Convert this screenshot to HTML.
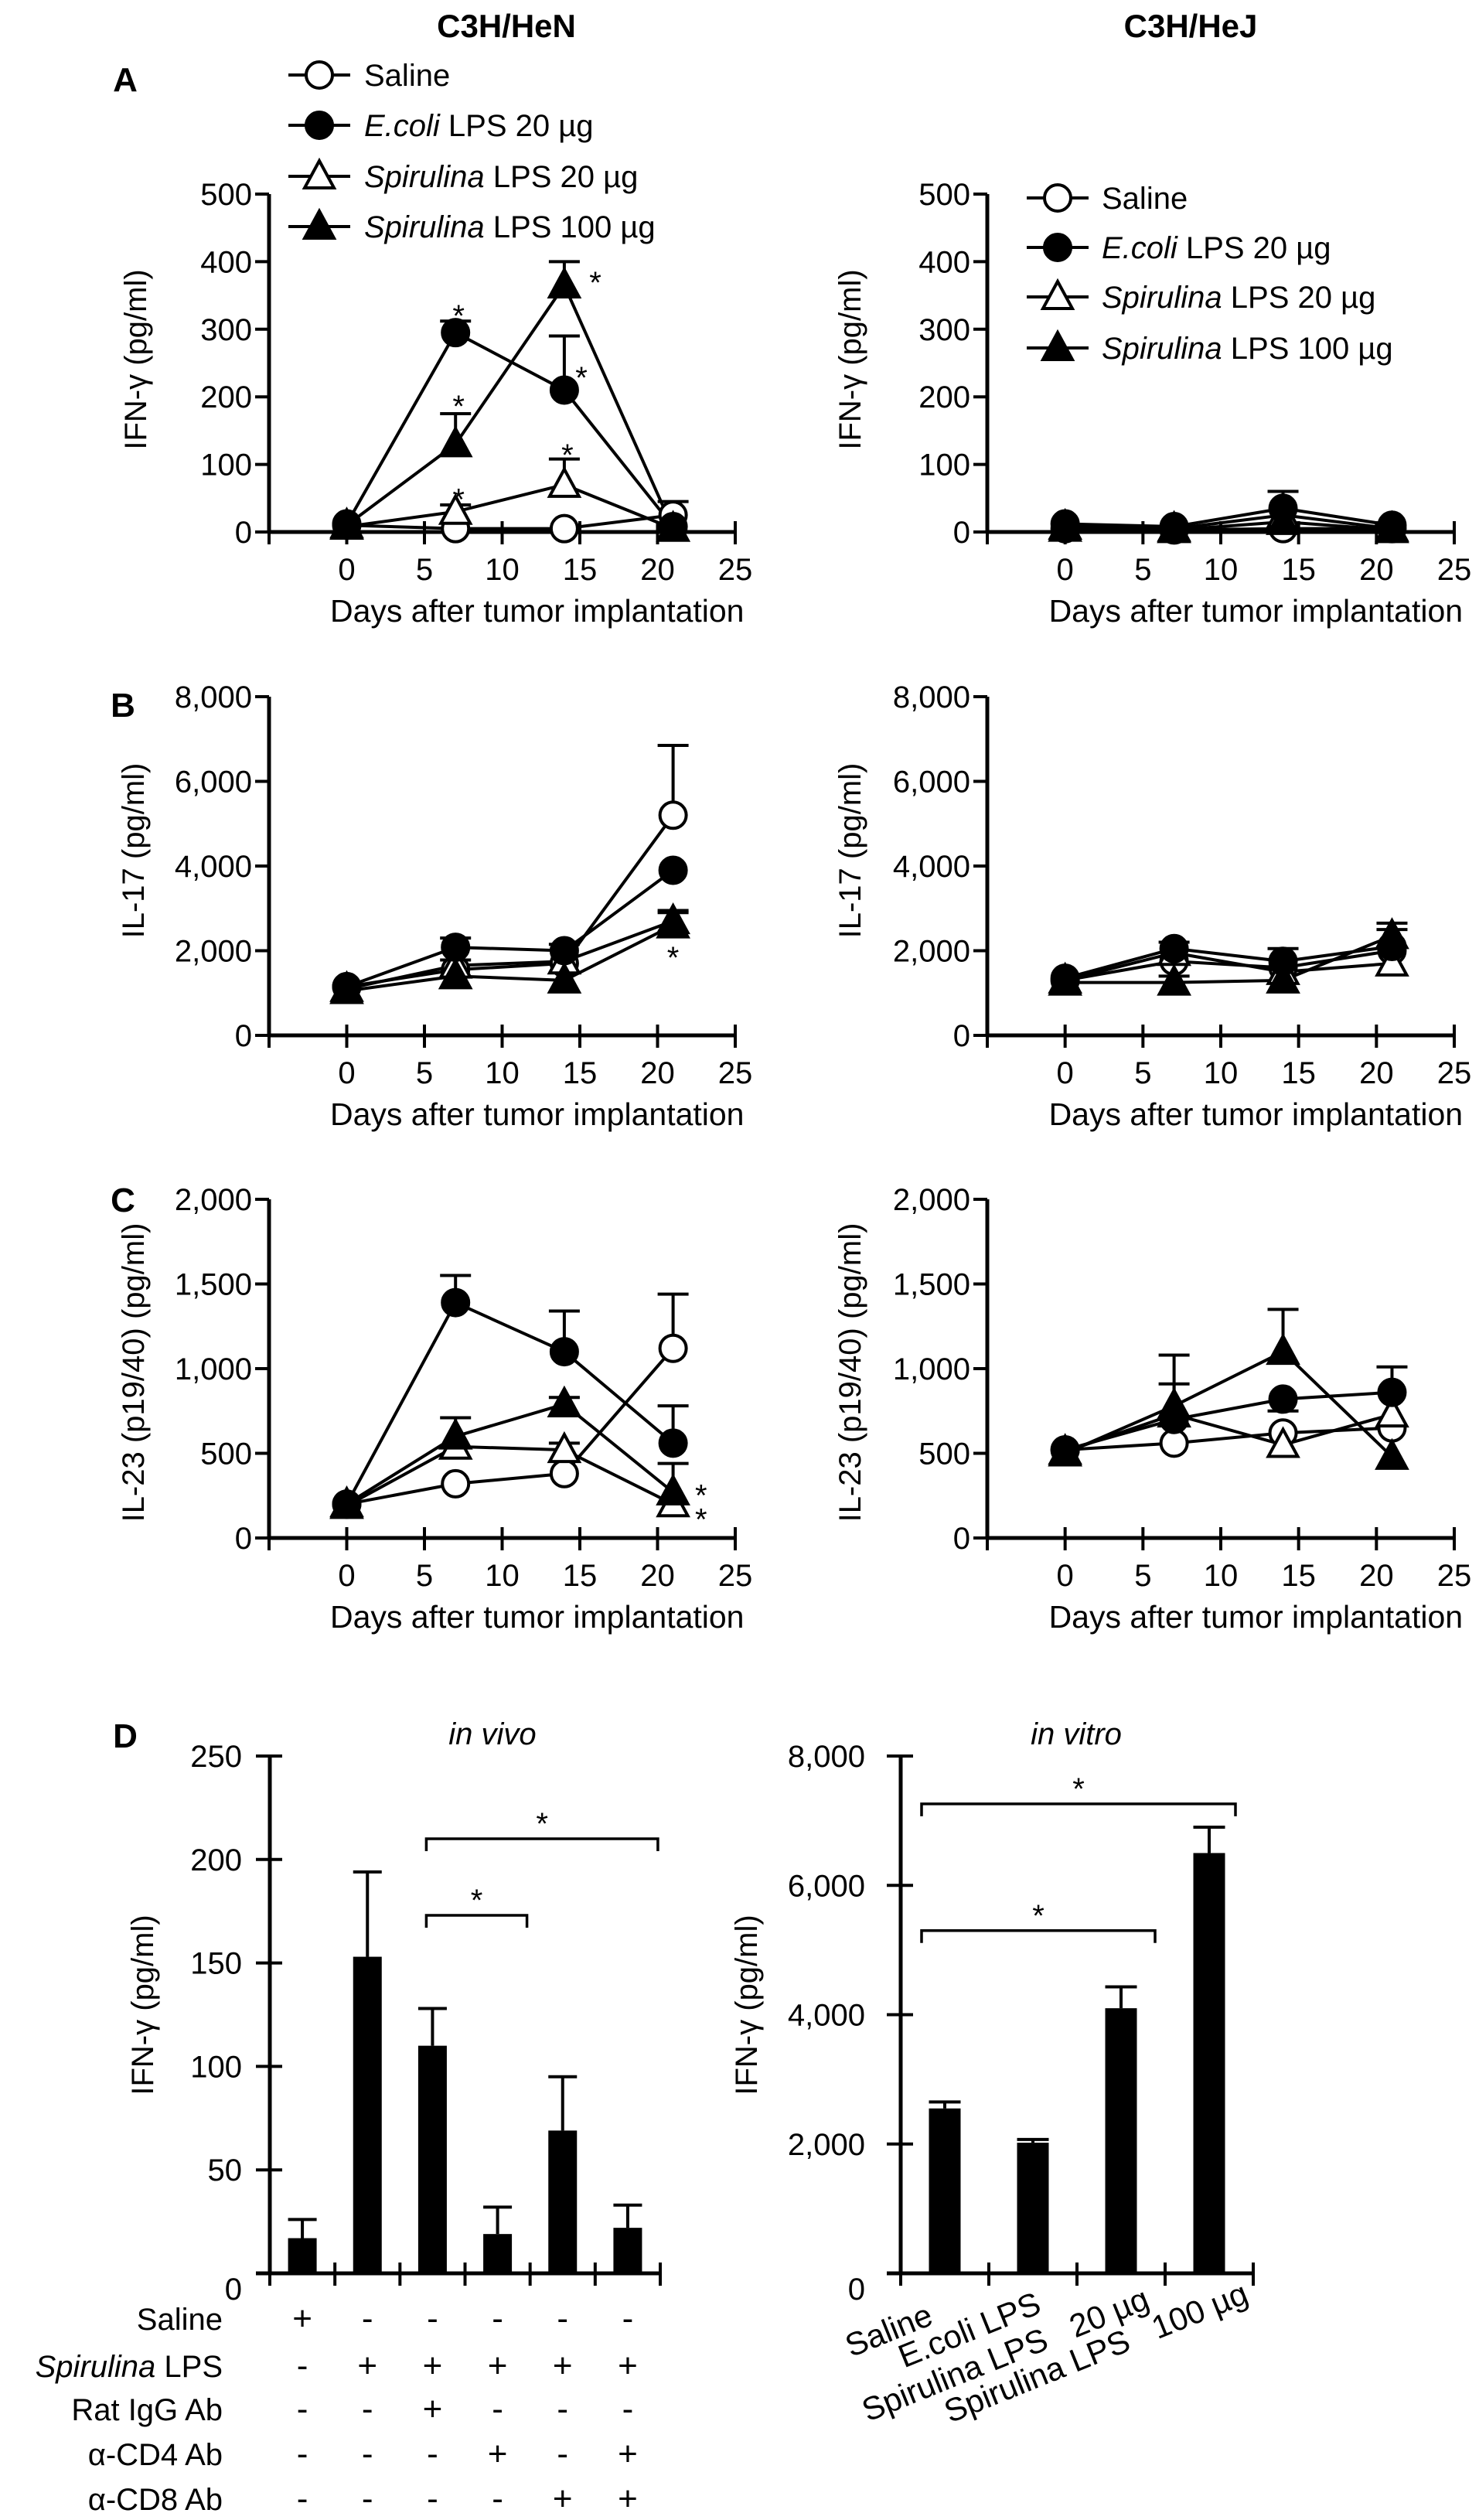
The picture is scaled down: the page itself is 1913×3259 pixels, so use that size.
<!DOCTYPE html>
<html><head><meta charset="utf-8">
<style>
html,body{margin:0;padding:0;background:#fff;}
svg{display:block;}
text{font-family:"Liberation Sans",Arial,sans-serif;fill:#000;}
</style></head>
<body>
<svg id="fig" width="1913" height="3259" viewBox="0 0 1913 3259" xmlns="http://www.w3.org/2000/svg">
<rect width="1913" height="3259" fill="#fff"/>
<text x="655" y="48" font-size="42" font-weight="bold" text-anchor="middle">C3H/HeN</text>
<text x="1540" y="48" font-size="42" font-weight="bold" text-anchor="middle">C3H/HeJ</text>
<text x="162" y="118" font-size="44" font-weight="bold" text-anchor="middle">A</text>
<text x="159" y="927" font-size="44" font-weight="bold" text-anchor="middle">B</text>
<text x="159" y="1567" font-size="44" font-weight="bold" text-anchor="middle">C</text>
<text x="162" y="2260" font-size="44" font-weight="bold" text-anchor="middle">D</text>
<text x="637" y="2256" font-size="40" font-style="italic" text-anchor="middle">in vivo</text>
<text x="1392" y="2256" font-size="40" font-style="italic" text-anchor="middle">in vitro</text>
</svg>
<script>
// ---------- DATA ----------
const days = [0, 7, 14, 21];
const xTicks = [0, 5, 10, 15, 20, 25];
const seriesNames = ["Saline", "E.coli LPS 20 µg", "Spirulina LPS 20 µg", "Spirulina LPS 100 µg"];

// Panel A (IFN-γ)
const aTicks = [0, 100, 200, 300, 400, 500];
const aTickLabels = ["0", "100", "200", "300", "400", "500"];
const aHeNSaline = [10, 5, 5, 25];
const aHeNSalineErr = [0, 0, 0, 45];
const aHeNEcoli = [12, 295, 210, 8];
const aHeNEcoliErr = [0, 312, 290, 0];
const aHeNSp20 = [8, 30, 70, 5];
const aHeNSp20Err = [0, 40, 108, 0];
const aHeNSp100 = [10, 130, 365, 5];
const aHeNSp100Err = [0, 175, 400, 0];
const aHeNStarDays = [7.2, 7.2, 7.2, 14.2, 16.0, 15.1];
const aHeNStarVals = [332, 198, 60, 126, 381, 240];
const aHeJSaline = [5, 3, 5, 5];
const aHeJEcoli = [12, 8, 35, 10];
const aHeJEcoliErr = [0, 0, 60, 0];
const aHeJSp20 = [8, 5, 25, 5];
const aHeJSp100 = [5, 3, 15, 3];

// Panel B (IL-17)
const bTicks = [0, 2000, 4000, 6000, 8000];
const bTickLabels = ["0", "2,000", "4,000", "6,000", "8,000"];
const bHeNSaline = [1150, 1550, 1700, 5200];
const bHeNSalineErr = [0, 0, 0, 6850];
const bHeNEcoli = [1150, 2080, 2000, 3900];
const bHeNEcoliErr = [0, 2300, 2150, 0];
const bHeNSp20 = [1100, 1650, 1750, 2700];
const bHeNSp20Err = [0, 1780, 0, 2900];
const bHeNSp100 = [1050, 1400, 1300, 2600];
const bHeNSp100Err = [0, 0, 0, 2950];
const bHeNStarDays = [21];
const bHeNStarVals = [2030];
const bHeJSaline = [1300, 1750, 1600, 2000];
const bHeJEcoli = [1350, 2050, 1750, 2100];
const bHeJEcoliErr = [0, 2200, 2050, 2500];
const bHeJSp20 = [1300, 1950, 1500, 1700];
const bHeJSp100 = [1250, 1250, 1300, 2350];
const bHeJSp100Err = [0, 1400, 0, 2650];

// Panel C (IL-23)
const cTicks = [0, 500, 1000, 1500, 2000];
const cTickLabels = ["0", "500", "1,000", "1,500", "2,000"];
const cHeNSaline = [200, 320, 380, 1120];
const cHeNSalineErr = [0, 0, 0, 1440];
const cHeNEcoli = [200, 1390, 1100, 560];
const cHeNEcoliErr = [0, 1550, 1340, 780];
const cHeNSp20 = [190, 540, 520, 200];
const cHeNSp20Err = [0, 0, 560, 0];
const cHeNSp100 = [200, 600, 790, 270];
const cHeNSp100Err = [0, 710, 830, 440];
const cHeNStarDays = [22.8, 22.8];
const cHeNStarVals = [300, 157];
const cHeJSaline = [520, 560, 620, 650];
const cHeJEcoli = [520, 700, 820, 860];
const cHeJEcoliErr = [0, 910, 750, 1010];
const cHeJSp20 = [510, 730, 550, 730];
const cHeJSp100 = [500, 780, 1100, 480];
const cHeJSp100Err = [0, 1080, 1350, 0];

// Panel D in vivo
const dVivoCats = ["g1", "g2", "g3", "g4", "g5", "g6"];
const dVivoVals = [17, 153, 110, 19, 69, 22];
const dVivoErr = [26, 194, 128, 32, 95, 33];
const dVivoTicks = [0, 50, 100, 150, 200, 250];
const dVivoTickLabels = ["0", "50", "100", "150", "200", "250"];
const dVivoBracketFrom = [2, 2];
const dVivoBracketTo = [5, 3];
const dVivoBracketVal = [210, 173];
const tableRows = ["Saline", "Spirulina LPS", "Rat IgG Ab", "α-CD4 Ab", "α-CD8 Ab"];
const tableSaline = ["+", "-", "-", "-", "-", "-"];
const tableSpir = ["-", "+", "+", "+", "+", "+"];
const tableIgG = ["-", "-", "+", "-", "-", "-"];
const tableCD4 = ["-", "-", "-", "+", "-", "+"];
const tableCD8 = ["-", "-", "-", "-", "+", "+"];

// Panel D in vitro
const dVitroCats = ["Saline", "E.coli LPS", "Spirulina LPS   20 µg", "Spirulina LPS   100 µg"];
const dVitroVals = [2550, 2020, 4100, 6500];
const dVitroErr = [2650, 2070, 4430, 6900];
const dVitroTicks = [0, 2000, 4000, 6000, 8000];
const dVitroTickLabels = ["0", "2,000", "4,000", "6,000", "8,000"];
const dVitroBracketFrom = [0, 0];
const dVitroBracketTo = [3, 2];
const dVitroBracketVal = [7260, 5300];

// ---------- DRAWING ----------
const NS = "http://www.w3.org/2000/svg";
const svg = document.getElementById("fig");
function mk(tag, attrs, parent) {
  const e = document.createElementNS(NS, tag);
  for (const k in attrs) e.setAttribute(k, attrs[k]);
  (parent || svg).appendChild(e);
  return e;
}
function line(g, x1, y1, x2, y2, w) {
  return mk("line", {x1: x1, y1: y1, x2: x2, y2: y2, stroke: "#000", "stroke-width": w || 4}, g);
}

function lineChart(name, cfg, series, starDays, starVals) {
  const g = mk("g", {});
  
  
  const xs = d => cfg.ax + (d + 5) * (cfg.x25 - cfg.ax) / 30;
  const ys = v => cfg.yBot - v / cfg.max * (cfg.yBot - cfg.yTop);
  const ya = line(g, cfg.ax, cfg.yTop, cfg.ax, cfg.yBot + 2, 5);
  
  
  const xa = line(g, cfg.ax, cfg.yBot, cfg.x25, cfg.yBot, 5);
  
  
  cfg.ticks.forEach((t, i) => {
    line(g, cfg.ax - 18, ys(t), cfg.ax, ys(t), 4);
    const tx = mk("text", {x: cfg.ax - 22, y: ys(t) + 14, "font-size": 40, "text-anchor": "end"}, g);
    tx.textContent = cfg.tickLabels[i];
    
    
  });
  const allX = [-5].concat(xTicks);
  allX.forEach(d => line(g, xs(d), cfg.yBot - 14, xs(d), cfg.yBot + 16, 4));
  xTicks.forEach(d => {
    const tx = mk("text", {x: xs(d), y: cfg.yBot + 62, "font-size": 40, "text-anchor": "middle"}, g);
    tx.textContent = String(d);
    
    
  });
  const xt = mk("text", {x: (xs(0) + cfg.x25) / 2 - 5, y: cfg.yBot + 116, "font-size": 41, "text-anchor": "middle"}, g);
  xt.textContent = "Days after tumor implantation";
  
  
  const yt = mk("text", {x: 0, y: 0, "font-size": 40, "text-anchor": "middle", transform: "translate(" + (cfg.titleX + 14) + "," + cfg.titleY + ") rotate(-90)"}, g);
  yt.textContent = cfg.title;
  
  
  series.forEach(s => {
    const pts = days.map((d, i) => xs(d) + "," + ys(s.v[i])).join(" ");
    const pl = mk("polyline", {points: pts, fill: "none", stroke: "#000", "stroke-width": 4}, g);
    
    
  });
  series.forEach(s => {
    if (!s.e) return;
    days.forEach((d, i) => {
      if (!s.e[i]) return;
      line(g, xs(d), ys(s.v[i]), xs(d), ys(s.e[i]), 4);
      line(g, xs(d) - 20, ys(s.e[i]), xs(d) + 20, ys(s.e[i]), 4);
    });
  });
  series.forEach(s => {
    days.forEach((d, i) => {
      const m = marker(g, s.key, xs(d), ys(s.v[i]));
      
      
    });
  });
  (starDays || []).forEach((d, i) => {
    const st = mk("text", {x: xs(d), y: ys(starVals[i]) + 24, "font-size": 40, "text-anchor": "middle"}, g);
    st.textContent = "*";
    
    
  });
}
function marker(g, key, cx, cy) {
  const fill = (key === "ecoli" || key === "sp100") ? "#000" : "#fff";
  if (key === "saline" || key === "ecoli") {
    return mk("circle", {cx: cx, cy: cy, r: 17, fill: fill, stroke: "#000", "stroke-width": 4}, g);
  }
  return mk("polygon", {points: cx + "," + (cy - 20) + " " + (cx - 19) + "," + (cy + 15) + " " + (cx + 19) + "," + (cy + 15), fill: fill, stroke: "#000", "stroke-width": 4}, g);
}
function legend(name, lx, tx, ys) {
  const g = mk("g", {});
  
  
  const keys = ["saline", "ecoli", "sp20", "sp100"];
  const parts = [["", "Saline"], ["E.coli", " LPS 20 µg"], ["Spirulina", " LPS 20 µg"], ["Spirulina", " LPS 100 µg"]];
  keys.forEach((k, i) => {
    const e = mk("g", {}, g);
    
    
    line(e, lx, ys[i], lx + 80, ys[i], 4);
    marker(e, k, lx + 40, ys[i]);
    const t = mk("text", {x: tx, y: ys[i] + 14, "font-size": 40}, e);
    if (parts[i][0]) {
      const it = mk("tspan", {"font-style": "italic"}, t);
      it.textContent = parts[i][0];
    }
    const rest = mk("tspan", {}, t);
    rest.textContent = parts[i][1];
  });
}

const L = {ax: 348, x25: 951}, R = {ax: 1277, x25: 1881};
function S(saline, salineE, ecoli, ecoliE, sp20, sp20E, sp100, sp100E) {
  return [
    {key: "saline", v: saline, e: salineE},
    {key: "sp20", v: sp20, e: sp20E},
    {key: "sp100", v: sp100, e: sp100E},
    {key: "ecoli", v: ecoli, e: ecoliE}
  ];
}
lineChart("chart-a-hen", Object.assign({yTop: 251, yBot: 688, max: 500, ticks: aTicks, tickLabels: aTickLabels, title: "IFN-γ (pg/ml)", titleX: 175, titleY: 465}, L),
  S(aHeNSaline, aHeNSalineErr, aHeNEcoli, aHeNEcoliErr, aHeNSp20, aHeNSp20Err, aHeNSp100, aHeNSp100Err), aHeNStarDays, aHeNStarVals);
lineChart("chart-a-hej", Object.assign({yTop: 251, yBot: 688, max: 500, ticks: aTicks, tickLabels: aTickLabels, title: "IFN-γ (pg/ml)", titleX: 1099, titleY: 465}, R),
  S(aHeJSaline, null, aHeJEcoli, aHeJEcoliErr, aHeJSp20, null, aHeJSp100, null));
lineChart("chart-b-hen", Object.assign({yTop: 901, yBot: 1339, max: 8000, ticks: bTicks, tickLabels: bTickLabels, title: "IL-17 (pg/ml)", titleX: 172, titleY: 1100}, L),
  S(bHeNSaline, bHeNSalineErr, bHeNEcoli, bHeNEcoliErr, bHeNSp20, bHeNSp20Err, bHeNSp100, bHeNSp100Err), bHeNStarDays, bHeNStarVals);
lineChart("chart-b-hej", Object.assign({yTop: 901, yBot: 1339, max: 8000, ticks: bTicks, tickLabels: bTickLabels, title: "IL-17 (pg/ml)", titleX: 1099, titleY: 1100}, R),
  S(bHeJSaline, null, bHeJEcoli, bHeJEcoliErr, bHeJSp20, null, bHeJSp100, bHeJSp100Err));
lineChart("chart-c-hen", Object.assign({yTop: 1551, yBot: 1989, max: 2000, ticks: cTicks, tickLabels: cTickLabels, title: "IL-23 (p19/40) (pg/ml)", titleX: 172, titleY: 1775}, L),
  S(cHeNSaline, cHeNSalineErr, cHeNEcoli, cHeNEcoliErr, cHeNSp20, cHeNSp20Err, cHeNSp100, cHeNSp100Err), cHeNStarDays, cHeNStarVals);
lineChart("chart-c-hej", Object.assign({yTop: 1551, yBot: 1989, max: 2000, ticks: cTicks, tickLabels: cTickLabels, title: "IL-23 (p19/40) (pg/ml)", titleX: 1099, titleY: 1775}, R),
  S(cHeJSaline, null, cHeJEcoli, cHeJEcoliErr, cHeJSp20, null, cHeJSp100, cHeJSp100Err));
legend("legend-hen", 373, 471, [97, 162, 228, 293]);
legend("legend-hej", 1328, 1425, [256, 320, 384, 450]);

function barChart(name, cfg, cats, vals, errs, ticks, tickLabels, bFrom, bTo, bVal) {
  const g = mk("g", {});
  
  
  const cw = (cfg.xEnd - cfg.ax) / cats.length;
  const cx = i => cfg.ax + cw * (i + 0.5);
  const ys = v => cfg.yBot - v / cfg.max * (cfg.yBot - cfg.yTop);
  const ya = line(g, cfg.ax, cfg.yTop, cfg.ax, cfg.yBot + 2, 5);
  
  
  const xa = line(g, cfg.ax - 18, cfg.yBot, cfg.xEnd, cfg.yBot, 5);
  
  
  ticks.forEach((t, i) => {
    if (t > 0) line(g, cfg.ax - 18, ys(t), cfg.ax + 16, ys(t), 4);
    const tx = mk("text", {x: cfg.ax - cfg.gap, y: ys(t) + 14 + (t === 0 ? 20 : 0), "font-size": 40, "text-anchor": "end"}, g);
    tx.textContent = tickLabels[i];
    
    
  });
  for (let i = 0; i <= cats.length; i++) line(g, cfg.ax + cw * i, cfg.yBot - 14, cfg.ax + cw * i, cfg.yBot + 16, 4);
  const yt = mk("text", {x: 0, y: 0, "font-size": 40, "text-anchor": "middle", transform: "translate(" + (cfg.titleX + 14) + "," + cfg.titleY + ") rotate(-90)"}, g);
  yt.textContent = "IFN-γ (pg/ml)";
  
  
  cats.forEach((c, i) => {
    line(g, cx(i), ys(vals[i]), cx(i), ys(errs[i]), 4);
    line(g, cx(i) - cfg.bw / 2, ys(errs[i]), cx(i) + cfg.bw / 2, ys(errs[i]), 4);
    const r = mk("rect", {x: cx(i) - cfg.bw / 2, y: ys(vals[i]), width: cfg.bw, height: cfg.yBot - ys(vals[i]), fill: "#000"}, g);
    
    
  });
  bFrom.forEach((f, i) => {
    const x1 = cx(f) - cfg.bOff, x2 = cx(bTo[i]) + cfg.bOff2[i], y = ys(bVal[i]);
    const p = mk("path", {d: "M" + x1 + "," + (y + 16) + " L" + x1 + "," + y + " L" + x2 + "," + y + " L" + x2 + "," + (y + 16), fill: "none", stroke: "#000", "stroke-width": 3.5}, g);
    
    
    const st = mk("text", {x: (x1 + x2) / 2, y: y - 6, "font-size": 40, "text-anchor": "middle"}, g);
    st.textContent = "*";
    
    
  });
  return cx;
}
const cxV = barChart("chart-d-in-vivo", {ax: 349, xEnd: 854, yTop: 2271, yBot: 2940, max: 250, bw: 37, gap: 36, titleX: 184, titleY: 2593, bOff: 8, bOff2: [39, 38]},
  dVivoCats, dVivoVals, dVivoErr, dVivoTicks, dVivoTickLabels, dVivoBracketFrom, dVivoBracketTo, dVivoBracketVal);
const cxT = barChart("chart-d-in-vitro", {ax: 1165, xEnd: 1621, yTop: 2271, yBot: 2940, max: 8000, bw: 41, gap: 46, titleX: 965, titleY: 2593, bOff: 30, bOff2: [34, 44]},
  dVitroCats, dVitroVals, dVitroErr, dVitroTicks, dVitroTickLabels, dVitroBracketFrom, dVitroBracketTo, dVitroBracketVal);

// treatment table
const tableData = [tableSaline, tableSpir, tableIgG, tableCD4, tableCD8];
const rowY = [2999, 3060, 3116, 3174, 3232];
tableRows.forEach((r, ri) => {
  const t = mk("text", {x: 288, y: rowY[ri] + 14, "font-size": 40, "text-anchor": "end"});
  
  
  if (r.indexOf("Spirulina") === 0) {
    const it = mk("tspan", {"font-style": "italic"}, t); it.textContent = "Spirulina";
    const rest = mk("tspan", {}, t); rest.textContent = " LPS";
  } else t.textContent = r;
  tableData[ri].forEach((s, ci) => {
    const c = mk("text", {x: cxV(ci), y: rowY[ri] + 14, "font-size": 44, "text-anchor": "middle"});
    c.textContent = s;
    
    
  });
});
// in vitro rotated labels
const labEnd = [[1209, 3005], [1349, 2990], [1489, 2984], [1617, 2977]];
dVitroCats.forEach((c, i) => {
  const t = mk("text", {x: 0, y: 0, "font-size": 42, "text-anchor": "end", "xml:space": "preserve", transform: "translate(" + labEnd[i][0] + "," + labEnd[i][1] + ") rotate(-22)"});
  t.style.whiteSpace = "pre";
  
  
  t.textContent = c;
});
</script>
</body></html>
